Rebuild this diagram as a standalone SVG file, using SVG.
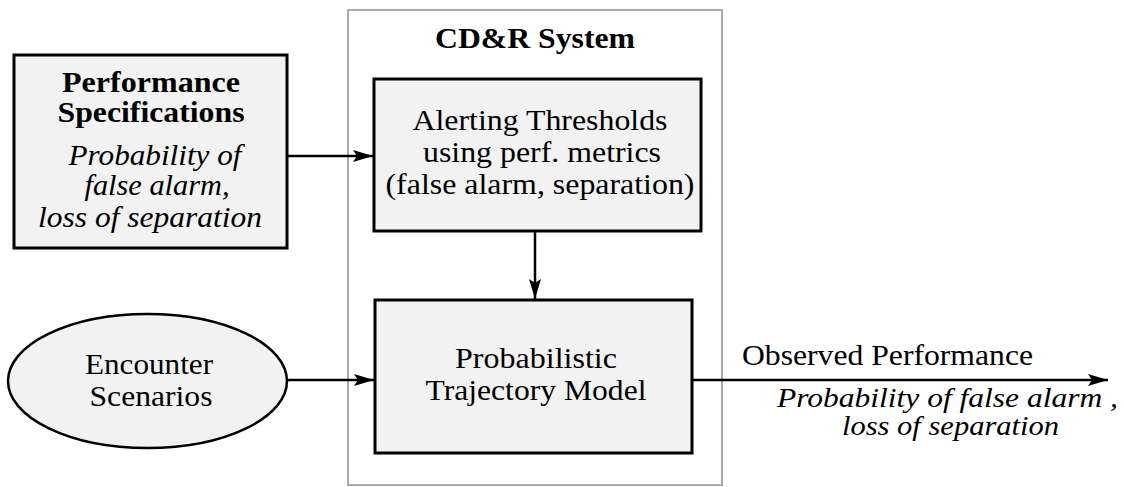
<svg xmlns="http://www.w3.org/2000/svg" width="1124" height="487" viewBox="0 0 1124 487">
<style>
.box{fill:#f2f2f2;stroke:#000;stroke-width:3}
.t{font-size:29px;fill:#000;text-anchor:middle}
.b{font-weight:bold}
.i{font-style:italic}
.c{fill:none;stroke:#000;stroke-width:2.5}
</style>
<defs>
<marker id="ah" markerUnits="userSpaceOnUse" markerWidth="22" markerHeight="14" refX="20" refY="6" orient="auto">
<path d="M0,0 L20,6 L0,12 L4,6 z" fill="#000"/>
</marker>
</defs>
<rect id="cdr-frame" x="348" y="10" width="374" height="475" fill="#fff" stroke="#aaa" stroke-width="2"/>
<text class="t b" font-family="Liberation Serif, serif" x="535" y="48" textLength="200" lengthAdjust="spacingAndGlyphs">CD&amp;R System</text>
<g id="perf-spec">
<rect class="box" x="14" y="55" width="273" height="193"/>
<text class="t b" font-family="Liberation Serif, serif" x="151" y="92" textLength="178" lengthAdjust="spacingAndGlyphs">Performance</text>
<text class="t b" font-family="Liberation Serif, serif" x="151" y="122" textLength="187" lengthAdjust="spacingAndGlyphs">Specifications</text>
<text class="t i" font-family="Liberation Serif, serif" x="155" y="165" textLength="173" lengthAdjust="spacingAndGlyphs">Probability of</text>
<text class="t i" font-family="Liberation Serif, serif" x="157" y="195" textLength="145" lengthAdjust="spacingAndGlyphs">false alarm,</text>
<text class="t i" font-family="Liberation Serif, serif" x="150" y="227" textLength="224" lengthAdjust="spacingAndGlyphs">loss of separation</text>
</g>
<g id="alerting">
<rect class="box" x="374" y="79" width="327" height="152"/>
<text class="t" font-family="Liberation Serif, serif" x="540" y="130" textLength="255" lengthAdjust="spacingAndGlyphs">Alerting Thresholds</text>
<text class="t" font-family="Liberation Serif, serif" x="542" y="162" textLength="238" lengthAdjust="spacingAndGlyphs">using perf. metrics</text>
<text class="t" font-family="Liberation Serif, serif" x="540" y="194" textLength="309" lengthAdjust="spacingAndGlyphs">(false alarm, separation)</text>
</g>
<g id="trajectory">
<rect class="box" x="375" y="300" width="317" height="153"/>
<text class="t" font-family="Liberation Serif, serif" x="536" y="368" textLength="162" lengthAdjust="spacingAndGlyphs">Probabilistic</text>
<text class="t" font-family="Liberation Serif, serif" x="536" y="400" textLength="221" lengthAdjust="spacingAndGlyphs">Trajectory Model</text>
</g>
<g id="encounter">
<ellipse cx="147.5" cy="381" rx="139.5" ry="67" fill="#f2f2f2" stroke="#000" stroke-width="2.5"/>
<text class="t" font-family="Liberation Serif, serif" x="149" y="374" textLength="128" lengthAdjust="spacingAndGlyphs">Encounter</text>
<text class="t" font-family="Liberation Serif, serif" x="151" y="406" textLength="123" lengthAdjust="spacingAndGlyphs">Scenarios</text>
</g>
<g id="output-labels">
<text class="t" font-family="Liberation Serif, serif" x="887.5" y="365" textLength="291" lengthAdjust="spacingAndGlyphs">Observed Performance</text>
<text class="t i" font-family="Liberation Serif, serif" x="947.5" y="407" textLength="341" lengthAdjust="spacingAndGlyphs" style="font-size:27px">Probability of false alarm ,</text>
<text class="t i" font-family="Liberation Serif, serif" x="950.5" y="435" textLength="217" lengthAdjust="spacingAndGlyphs" style="font-size:27px">loss of separation</text>
</g>
<g id="connectors">
<line class="c" x1="287" y1="156" x2="373" y2="156" marker-end="url(#ah)"/>
<line class="c" x1="535" y1="231" x2="535" y2="299" marker-end="url(#ah)"/>
<line class="c" x1="287" y1="380" x2="374" y2="380" marker-end="url(#ah)"/>
<line class="c" x1="692" y1="380" x2="1108" y2="380" marker-end="url(#ah)"/>
</g>
</svg>
